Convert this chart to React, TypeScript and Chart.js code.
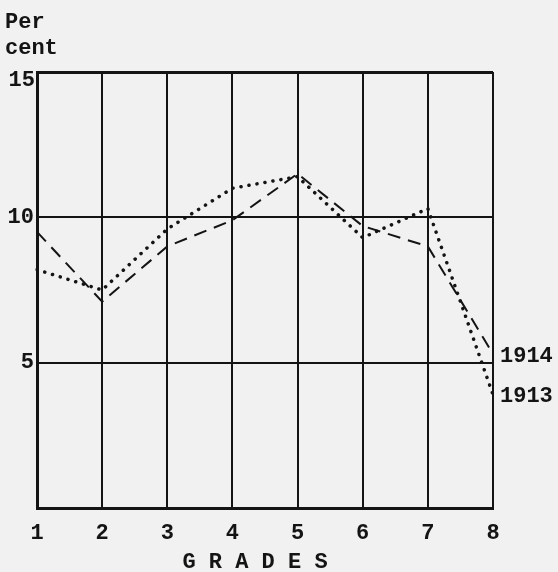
import React, { useEffect, useRef } from "react";
import { Chart, registerables } from "chart.js";

Chart.register(...registerables);

const grades = ["1", "2", "3", "4", "5", "6", "7", "8"];
const series1914 = [9.5, 7.1, 9.0, 9.9, 11.5, 9.7, 9.0, 5.3];
const series1913 = [8.2, 7.5, 9.6, 11.0, 11.4, 9.3, 10.3, 3.9];
const yTickValues = [5, 10, 15];
const seriesNames = ["1914", "1913"];
const yTitle = ["Per", "cent"];
const xTitle = "G R A D E S";

const INK = "#141414";
const BG = "#f1f1f1";
const FONT = '"Liberation Mono", "DejaVu Sans Mono", monospace';
const TOP_TICK = yTickValues[yTickValues.length - 1];

export default function App() {
  const ref = useRef<HTMLCanvasElement | null>(null);

  useEffect(() => {
    if (!ref.current) return;
    const textPlugin = {
      id: "texts",
      beforeDraw(chart: any) {
        const c = chart.ctx;
        c.save();
        c.fillStyle = BG;
        c.fillRect(0, 0, chart.width, chart.height);
        c.restore();
      },
      afterDraw(chart: any) {
        const c = chart.ctx;
        const xs = chart.scales.x;
        const ys = chart.scales.y;
        const area = chart.chartArea;
        c.save();
        c.fillStyle = INK;
        c.font = `bold 22px ${FONT}`;
        c.textBaseline = "middle";
        c.textAlign = "left";
        c.fillText(yTitle[0], 5, 22);
        c.fillText(yTitle[1], 5, 48);
        const last = grades.length - 1;
        const xr = xs.getPixelForValue(last) + 7;
        c.fillText(seriesNames[0], xr, ys.getPixelForValue(series1914[last]) + 3);
        c.fillText(seriesNames[1], xr, ys.getPixelForValue(series1913[last]) + 2);
        c.textAlign = "right";
        c.fillText(String(TOP_TICK), area.left - 2, ys.getPixelForValue(TOP_TICK) + 8);
        c.textAlign = "center";
        c.fillText(xTitle, (area.left + area.right) / 2 - 10, 562);
        c.restore();
      },
    };

    const chart = new Chart(ref.current, {
      type: "line",
      data: {
        labels: grades,
        datasets: [
          {
            label: seriesNames[0],
            data: series1914,
            borderColor: INK,
            borderWidth: 2,
            borderDash: [13, 8],
            pointRadius: 0,
            tension: 0,
            fill: false,
          },
          {
            label: seriesNames[1],
            data: series1913,
            borderColor: INK,
            borderWidth: 3.5,
            borderDash: [0.1, 8],
            borderCapStyle: "round",
            pointRadius: 0,
            tension: 0,
            fill: false,
          },
        ],
      },
      options: {
        animation: false,
        responsive: false,
        layout: { padding: { top: 72, right: 65, bottom: 0, left: 0 } },
        plugins: {
          legend: { display: false },
          tooltip: { enabled: false },
          title: { display: false },
        },
        scales: {
          x: {
            type: "category",
            offset: false,
            afterFit(scale: any) {
              scale.height = 64;
            },
            grid: {
              color: INK,
              lineWidth: 2,
              drawTicks: false,
            },
            border: { color: INK, width: 3 },
            ticks: {
              color: INK,
              font: { family: FONT, size: 22, weight: "bold" },
              padding: 12,
              maxRotation: 0,
            },
          },
          y: {
            min: 0,
            max: TOP_TICK,
            afterFit(scale: any) {
              scale.width = 37;
            },
            afterBuildTicks(scale: any) {
              scale.ticks = [0, ...yTickValues].map((v) => ({ value: v }));
            },
            grid: {
              color: INK,
              lineWidth: (ctx: any) => (ctx.tick && ctx.tick.value === TOP_TICK ? 3 : 2),
              drawTicks: false,
            },
            border: { color: INK, width: 3 },
            ticks: {
              color: INK,
              font: { family: FONT, size: 22, weight: "bold" },
              padding: 3,
              callback: (v: any) =>
                yTickValues.includes(Number(v)) && Number(v) !== TOP_TICK ? String(v) : "",
            },
          },
        },
      },
      plugins: [textPlugin],
    } as any);
    return () => chart.destroy();
  }, []);

  return (
    <div style={{ position: "fixed", left: 0, top: 0, width: 558, height: 572, background: BG }}>
      <canvas ref={ref} width={558} height={572} style={{ display: "block" }} />
    </div>
  );
}
